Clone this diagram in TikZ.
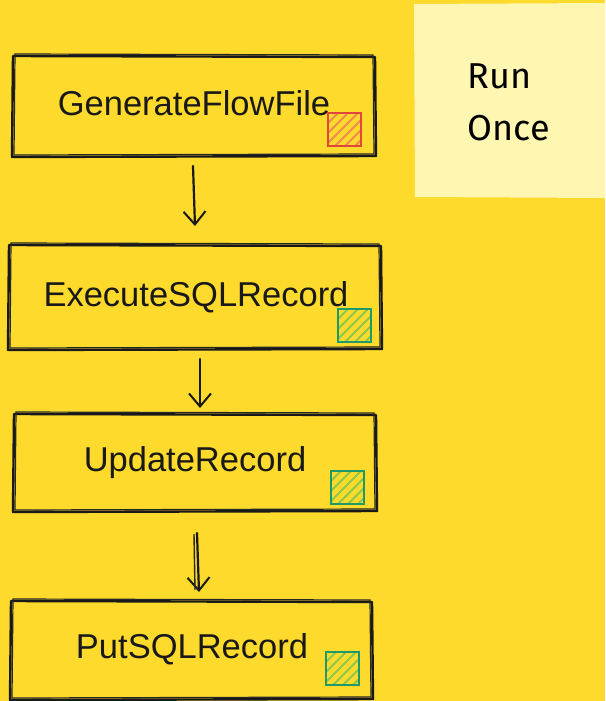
\documentclass[tikz,border=0pt]{standalone}
\usepackage{fontspec}
\setmainfont{Liberation Sans}
\newfontfamily\notefont{Fira Sans}
\usetikzlibrary{arrows.meta}
\definecolor{bgyellow}{HTML}{FDDA2C}
\definecolor{notefill}{HTML}{FFF6B2}
\definecolor{inkred}{HTML}{E0463A}
\definecolor{hatchred}{HTML}{F08A50}
\definecolor{inkgreen}{HTML}{1E9A6A}
\definecolor{hatchgreen}{HTML}{8CC84B}
\tikzset{
  sketch/.style={draw=black!90, line width=2.4pt, line join=round},
  sketchthin/.style={draw=black!85, line width=1.2pt},
  proc/.style={font=\fontsize{34.5}{37}\selectfont, text=black!90},
  flowarrow/.style={draw=black!90, line width=2.2pt, line cap=round,
    -{Straight Barb[length=13pt,width=22pt,line width=2pt]}},
}
% hand drawn box: two slightly shifted outlines
\newcommand\roughbox[4]{%
  \draw[sketch] (#1,#2) -- (#3,#2+1) -- (#3+1,#4) -- (#1-1,#4+1) -- cycle;
  \draw[sketchthin] (#1+2,#2-2) -- (#3-2,#2-1) -- (#3-1,#4-2) -- (#1+1,#4-1) -- cycle;
}
% small status square with diagonal hatching
\newcommand\statussquare[4]{%
  \begin{scope}
    \clip (#1,#2) rectangle (#1+33,#2+33);
    \foreach \k in {0,10,...,70} {
      \draw[#4, line width=2pt] (#1+\k-33,#2+33) -- (#1+\k,#2);
    }
  \end{scope}
  \draw[#3, line width=2.6pt] (#1,#2) rectangle (#1+33,#2+33);
}
\begin{document}
\begin{tikzpicture}[x=1pt,y=-1pt]
  \fill[bgyellow] (0,0) rectangle (605,701);
  \useasboundingbox (0,0) rectangle (605,701);

  % sticky note
  \fill[notefill] (414,4) -- (605,3) -- (605,198) -- (415,197) -- cycle;
  \node[font=\notefont\fontsize{36}{52}\selectfont, align=left, anchor=west] (note) at (464,102) {Run\\Once};

  % boxes
  \roughbox{13}{56}{375}{156}
  \roughbox{9}{245}{381}{349}
  \roughbox{14}{414}{376}{511}
  \roughbox{11}{601}{372}{699}

  \node[proc] (gen) at (194,103) {GenerateFlowFile};
  \node[proc] (exe) at (196,297) {ExecuteSQLRecord};
  \node[proc] (upd) at (195,463) {UpdateRecord};
  \node[proc] (put) at (192,649) {PutSQLRecord};

  \statussquare{328}{113}{inkred}{hatchred}
  \statussquare{338}{309}{inkgreen}{hatchgreen}
  \statussquare{331}{471}{inkgreen}{hatchgreen}
  \statussquare{326}{652}{inkgreen}{hatchgreen}

  % connectors
  \coordinate (a1s) at (193,166); \coordinate (a1e) at (195,226);
  \coordinate (a2s) at (200,359); \coordinate (a2e) at (200,408);
  \coordinate (a3s) at (197,533); \coordinate (a3e) at (199,592);
  \draw[flowarrow] (a1s) -- (a1e);
  \draw[flowarrow] (a2s) -- (a2e);
  \draw[flowarrow] (a3s) -- (a3e);
  \draw[black!85, line width=1.4pt] (194,534) -- (195,590);
\end{tikzpicture}
\end{document}
